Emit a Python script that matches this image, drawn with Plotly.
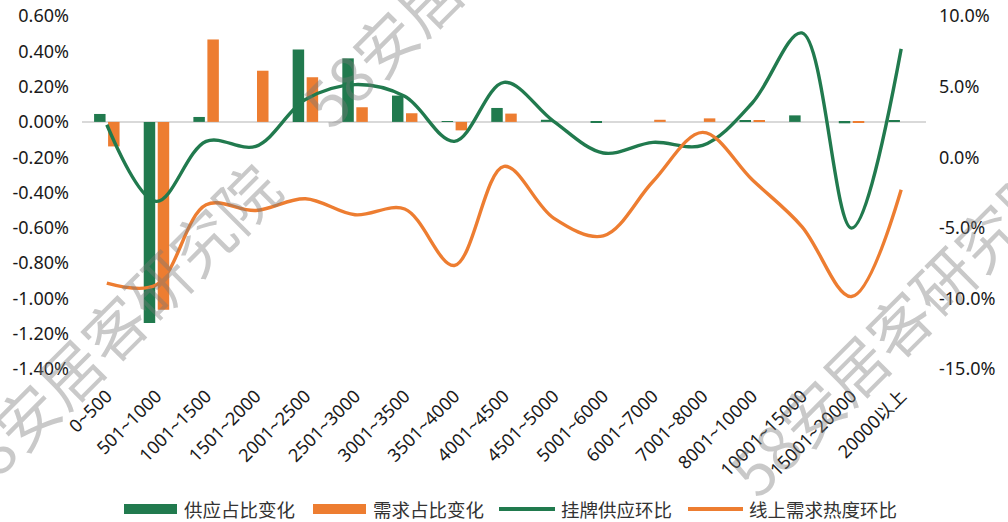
import plotly.graph_objects as go

categories = ["0~500", "501~1000", "1001~1500", "1501~2000", "2001~2500", "2501~3000",
              "3001~3500", "3501~4000", "4001~4500", "4501~5000", "5001~6000", "6001~7000",
              "7001~8000", "8001~10000", "10001~15000", "15001~20000", "20000以上"]

supply_share_change = [0.045, -1.14, 0.028, 0.0, 0.41, 0.36, 0.149, 0.003, 0.079, 0.012,
                       -0.005, 0.0, 0.0, 0.01, 0.037, -0.008, 0.01]
demand_share_change = [-0.139, -1.065, 0.467, 0.29, 0.253, 0.083, 0.049, -0.048, 0.047, 0.0,
                       0.0, 0.012, 0.02, 0.006, 0.0, -0.006, 0.0]
listing_supply_mom = [2.3, -3.13, 1.12, 0.77, 4.08, 5.14, 4.31, 1.12, 5.3, 2.54,
                      0.3, 1.05, 0.84, 3.84, 8.8, -5.02, 7.67]
online_demand_mom = [-8.92, -9.04, -3.37, -3.77, -2.94, -4.08, -3.67, -7.67, -0.65, -4.31,
                     -5.57, -1.72, 1.76, -1.6, -4.91, -9.87, -2.3]

left_tickvals = [0.6, 0.4, 0.2, 0.0, -0.2, -0.4, -0.6, -0.8, -1.0, -1.2, -1.4]
left_ticktext = ["0.60%", "0.40%", "0.20%", "0.00%", "-0.20%", "-0.40%", "-0.60%",
                 "-0.80%", "-1.00%", "-1.20%", "-1.40%"]
right_tickvals = [10, 5, 0, -5, -10, -15]
right_ticktext = ["10.0%", "5.0%", "0.0%", "-5.0%", "-10.0%", "-15.0%"]

series_names = ["供应占比变化", "需求占比变化", "挂牌供应环比", "线上需求热度环比"]
watermark_text = "58安居客研究院"

GREEN = "#217A4E"
ORANGE = "#ED7D31"
FONT = "Noto Sans, Noto Sans CJK SC, sans-serif"

W, H = 1008, 522
ML, MR, MT, MB = 82, 82, 16, 153
PW, PH = W - ML - MR, H - MT - MB


def px_x(px):
    return (px - ML) / PW


def px_y(py):
    return (H - MB - py) / PH


fig = go.Figure()
fig.add_trace(go.Bar(x=categories, y=supply_share_change, name=series_names[0],
                     marker=dict(color=GREEN, line=dict(width=0)), yaxis="y"))
fig.add_trace(go.Bar(x=categories, y=demand_share_change, name=series_names[1],
                     marker=dict(color=ORANGE, line=dict(width=0)), yaxis="y"))
fig.add_trace(go.Scatter(x=categories, y=listing_supply_mom, name=series_names[2], mode="lines",
                         line=dict(color=GREEN, width=3.4, shape="spline", smoothing=1.0),
                         yaxis="y2"))
fig.add_trace(go.Scatter(x=categories, y=online_demand_mom, name=series_names[3], mode="lines",
                         line=dict(color=ORANGE, width=3.4, shape="spline", smoothing=1.0),
                         yaxis="y2"))

# custom legend
legend_items = [
    ("bar", GREEN, 124, 177, 183, series_names[0]),
    ("bar", ORANGE, 313, 366, 372, series_names[1]),
    ("line", GREEN, 499, 555, 560, series_names[2]),
    ("line", ORANGE, 688, 743, 748, series_names[3]),
]
shapes = []
annotations = []
LEG_Y = 509
for kind, color, x0, x1, tx, label in legend_items:
    if kind == "bar":
        shapes.append(dict(type="rect", xref="paper", yref="paper",
                           x0=px_x(x0), x1=px_x(x1), y0=px_y(LEG_Y - 5), y1=px_y(LEG_Y + 5),
                           fillcolor=color, line=dict(width=0), layer="above"))
    else:
        shapes.append(dict(type="line", xref="paper", yref="paper",
                           x0=px_x(x0), x1=px_x(x1), y0=px_y(LEG_Y), y1=px_y(LEG_Y),
                           line=dict(color=color, width=4), layer="above"))
    annotations.append(dict(text=label, xref="paper", yref="paper", x=px_x(tx), y=px_y(LEG_Y),
                            xanchor="left", yanchor="middle", showarrow=False, borderpad=0,
                            font=dict(family="Noto Sans CJK SC", size=18.5, color="#333333")))

# watermarks
for cx, cy in [(110, 330), (468, -43), (895, 326)]:
    annotations.append(dict(text=watermark_text, xref="paper", yref="paper",
                            x=px_x(cx), y=px_y(cy), xanchor="center", yanchor="middle",
                            showarrow=False, textangle=-45,
                            font=dict(family="Noto Sans CJK SC", size=62,
                                      color="rgba(120,120,120,0.4)", weight=400)))

fig.update_layout(
    width=W, height=H,
    margin=dict(l=ML, r=MR, t=MT, b=MB, pad=0, autoexpand=False),
    paper_bgcolor="white", plot_bgcolor="white",
    barmode="group", bargap=0.436, bargroupgap=0.18,
    showlegend=False,
    font=dict(family=FONT, size=18, color="#1a1a1a"),
    xaxis=dict(type="category", categoryorder="array", categoryarray=categories,
               tickangle=-45, tickfont=dict(size=18), showgrid=False, showline=False,
               ticks="", ticklabelstandoff=12, zeroline=False, automargin=False),
    yaxis=dict(range=[-1.4, 0.6], tickvals=left_tickvals, ticktext=left_ticktext,
               showgrid=False, zeroline=True, zerolinecolor="#D9D9D9", zerolinewidth=2,
               showline=False, ticks="", ticklabelstandoff=12, tickfont=dict(size=18),
               automargin=False),
    yaxis2=dict(range=[-15, 10], tickvals=right_tickvals, ticktext=right_ticktext,
                overlaying="y", side="right", showgrid=False, zeroline=False,
                showline=False, ticks="", ticklabelstandoff=12, tickfont=dict(size=18),
                automargin=False),
    shapes=shapes,
    annotations=annotations,
)

fig.write_html("out.html", config={"displayModeBar": False},
               post_script="document.body.style.margin='0';document.body.style.padding='0';"
                           "document.body.style.overflow='hidden';")
